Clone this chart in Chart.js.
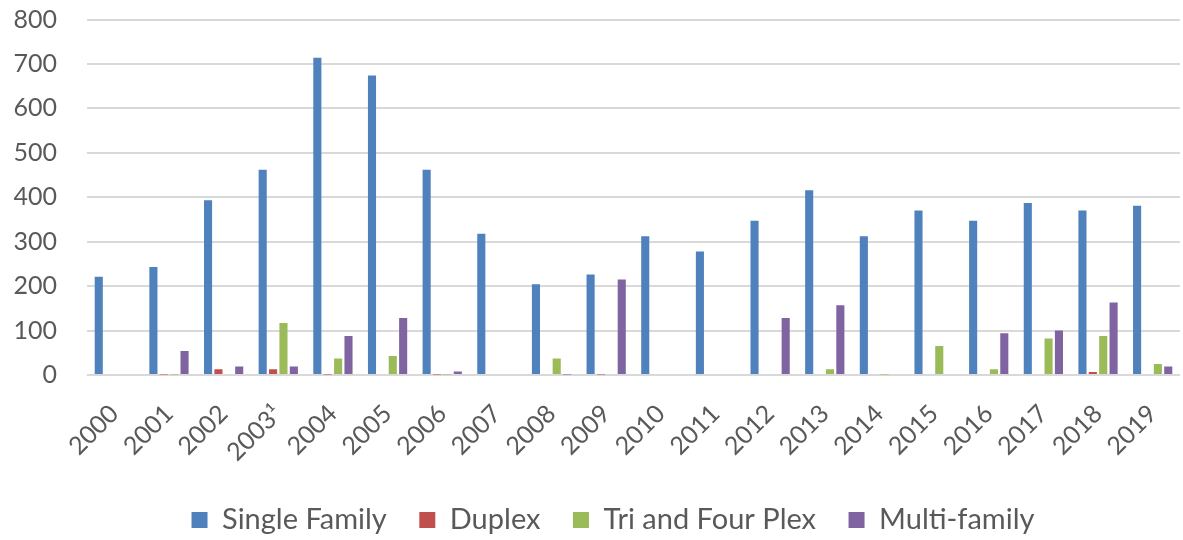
<!DOCTYPE html>
<html>
<head>
<meta charset="utf-8">
<script src="https://cdn.jsdelivr.net/npm/chart.js@4/dist/chart.umd.min.js"></script>
<style>
html,body{margin:0;padding:0;background:#fff;}
#wrap{width:1183px;height:540px;position:relative;}
</style>
</head>
<body>
<div id="wrap"><canvas id="c" width="1183" height="540"></canvas></div>
<script>
const categories = ["2000","2001","2002","2003¹","2004","2005","2006","2007","2008","2009","2010","2011","2012","2013","2014","2015","2016","2017","2018","2019"];
const singleFamily = [221,243,393,462,714,674,462,318,204,226,312,278,347,416,312,370,347,387,370,381];
const duplex       = [null,1,13,13,1,null,1,null,null,1,null,null,null,null,null,null,null,null,7,null];
const triFourPlex  = [null,1,null,117,37,43,1,null,37,null,null,null,null,13,1,65,13,82,88,25];
const multiFamily  = [null,54,19,19,88,128,8,null,1,215,null,null,128,157,null,null,94,100,163,19];
const yTicks = [0,100,200,300,400,500,600,700,800];

const seriesNames = ["Single Family","Duplex","Tri and Four Plex","Multi-family"];
const colors = ["#4F81BD","#C0504D","#9BBB59","#8064A2"];
const values = [singleFamily, duplex, triFourPlex, multiFamily];

const textColor = "#595959";
const fontFamily = "Lato, 'Open Sans', sans-serif";

// target layout (pixels)
const target = { left: 87, top: 19.5, bottom: 375, legendY: 520, legendCenterX: 613 };
let xAxisHeight = 80;
const yAxisWidth = 78;

const chart = new Chart(document.getElementById("c"), {
  type: "bar",
  data: {
    labels: categories,
    datasets: values.map((v,i)=>({
      label: seriesNames[i],
      data: v,
      backgroundColor: colors[i],
      borderWidth: 0,
      categoryPercentage: 0.76,
      barPercentage: 0.78
    }))
  },
  options: {
    responsive: false,
    animation: false,
    layout: { padding: { left: 9, right: -30, top: 19.5, bottom: 0 } },
    plugins: {
      legend: {
        position: "bottom",
        labels: {
          color: textColor,
          font: { family: fontFamily, size: 29 },
          boxWidth: 16, boxHeight: 16,
          padding: 32.5
        }
      },
      tooltip: { enabled: false }
    },
    scales: {
      x: {
        grid: { display: false, drawTicks: false },
        border: { display: false },
        afterFit: (axis) => { axis.height = xAxisHeight; axis.paddingRight = 3; axis.paddingLeft = 0; },
        ticks: {
          color: textColor,
          font: { family: fontFamily, size: 25 },
          minRotation: 45, maxRotation: 45,
          padding: 24,
          autoSkip: false
        }
      },
      y: {
        min: 0, max: 800,
        afterBuildTicks: (axis) => { axis.ticks = yTicks.map(v => ({ value: v })); },
        afterFit: (axis) => { axis.width = yAxisWidth; },
        grid: { color: "#D9D9D9", lineWidth: 2, drawTicks: true, tickLength: 28, tickColor: "rgba(0,0,0,0)" },
        border: { display: false },
        ticks: {
          color: textColor,
          font: { family: fontFamily, size: 25 },
          padding: 2
        }
      }
    }
  }
});

// Nudge layout paddings so the plot area and legend land where the reference has them
for (let k = 0; k < 5; k++) {
  const ca = chart.chartArea;
  const p = chart.options.layout.padding;
  p.left += target.left - ca.left;
  p.top += target.top - ca.top;
  const boxes = chart.legend.legendHitBoxes;
  if (boxes && boxes.length) {
    const hb = boxes[0], last = boxes[boxes.length - 1];
    p.bottom += (hb.top + hb.height / 2) - target.legendY;
    const cx = (hb.left + last.left + last.width) / 2;
    p.right += 2 * (cx - target.legendCenterX);
  }
  chart.update();
  xAxisHeight += chart.chartArea.bottom - target.bottom;
  chart.update();
}
</script>
</body>
</html>
